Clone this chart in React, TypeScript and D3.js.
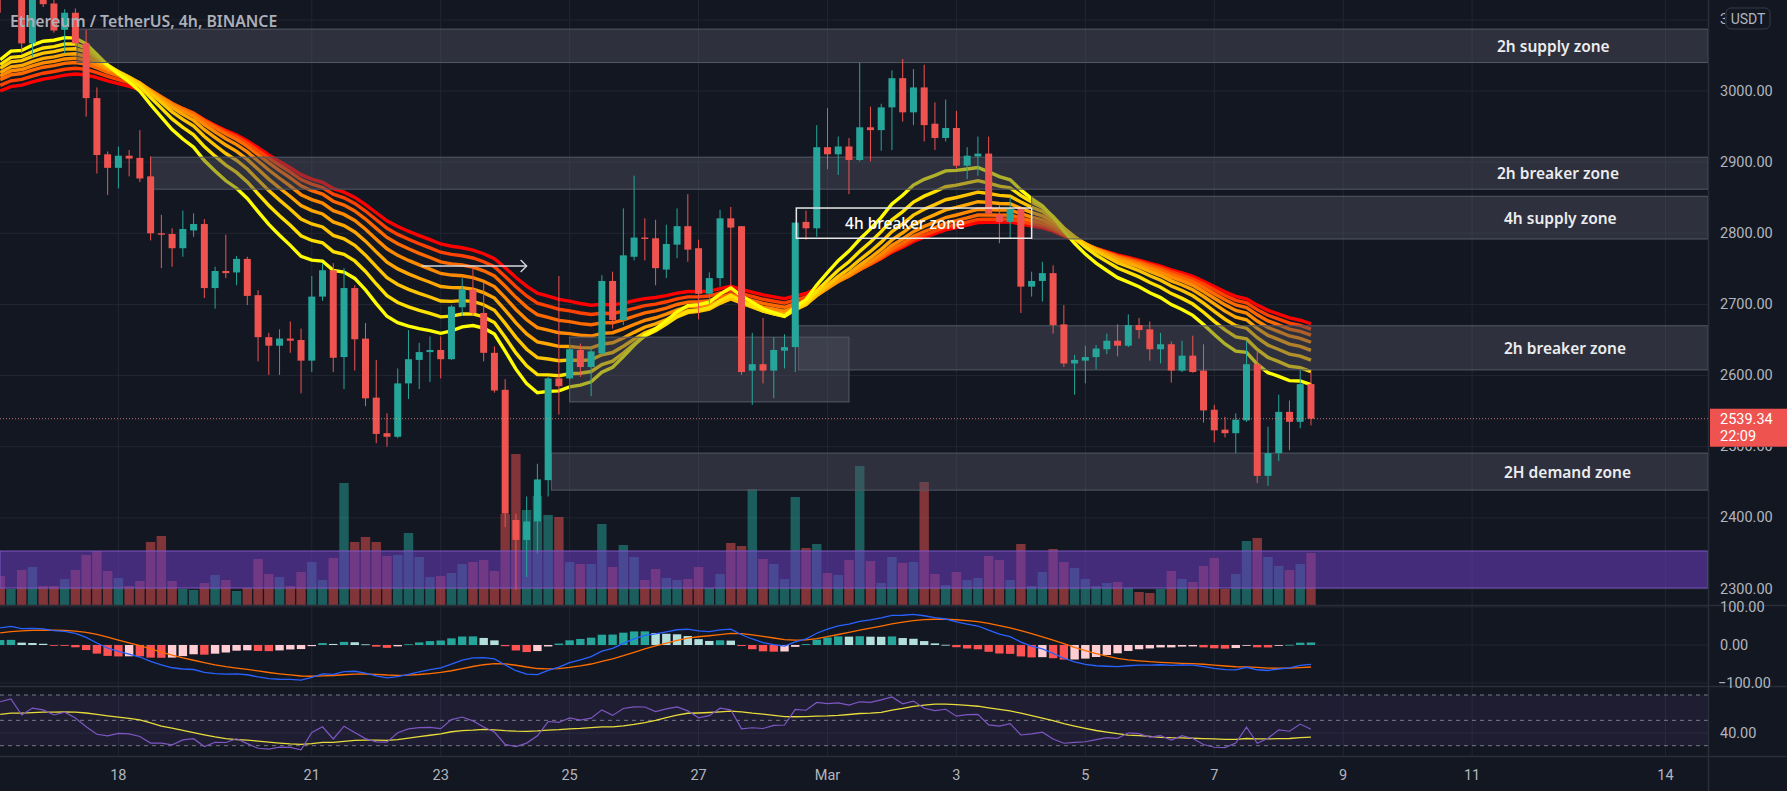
import React, { useMemo } from "react";
import * as d3 from "d3";

// ETH/USDT 4h candles, Feb 16 04:00 -> Mar 8 12:00 (open, high, low, close)
const ohlc: [number, number, number, number][] = [
  [3160, 3168, 3110, 3140], [3140, 3180, 3132, 3170], [3168, 3175, 3053, 3067], [3067, 3145, 3048, 3135],
  [3133, 3140, 3118, 3122], [3123, 3128, 3082, 3085], [3086, 3115, 3053, 3110], [3110, 3116, 3062, 3067],
  [3067, 3086, 2964, 2990], [2990, 3005, 2884, 2910], [2911, 2915, 2854, 2892], [2892, 2922, 2863, 2909],
  [2909, 2917, 2880, 2905], [2906, 2945, 2872, 2877], [2880, 2908, 2790, 2800], [2800, 2826, 2751, 2798],
  [2799, 2807, 2753, 2779], [2779, 2832, 2767, 2806], [2804, 2828, 2795, 2813], [2813, 2820, 2709, 2723],
  [2723, 2753, 2694, 2747], [2747, 2798, 2737, 2744], [2745, 2768, 2727, 2764], [2764, 2767, 2699, 2712],
  [2713, 2720, 2620, 2654], [2654, 2660, 2601, 2642], [2642, 2665, 2601, 2652], [2652, 2676, 2632, 2649],
  [2650, 2666, 2575, 2621], [2621, 2740, 2605, 2711], [2711, 2758, 2705, 2748], [2748, 2758, 2605, 2625],
  [2626, 2751, 2581, 2723], [2723, 2727, 2607, 2651], [2652, 2674, 2557, 2568], [2569, 2622, 2505, 2518],
  [2519, 2547, 2500, 2514], [2514, 2610, 2512, 2589], [2589, 2664, 2567, 2623], [2622, 2646, 2581, 2633],
  [2633, 2655, 2591, 2636], [2636, 2655, 2596, 2623], [2623, 2699, 2622, 2697], [2696, 2737, 2684, 2721],
  [2721, 2755, 2685, 2688], [2688, 2730, 2620, 2632], [2632, 2641, 2576, 2579], [2580, 2595, 2387, 2406],
  [2397, 2406, 2299, 2369], [2369, 2430, 2317, 2395], [2395, 2476, 2350, 2454], [2453, 2598, 2430, 2596],
  [2596, 2740, 2545, 2585], [2596, 2641, 2594, 2637], [2636, 2645, 2598, 2612], [2612, 2641, 2571, 2634],
  [2631, 2741, 2629, 2733], [2733, 2746, 2666, 2678], [2678, 2835, 2671, 2769], [2767, 2881, 2762, 2794],
  [2794, 2821, 2762, 2792], [2793, 2819, 2727, 2751], [2749, 2812, 2737, 2785], [2784, 2835, 2765, 2810],
  [2810, 2855, 2760, 2777], [2779, 2791, 2679, 2715], [2715, 2745, 2701, 2737], [2737, 2833, 2725, 2821],
  [2821, 2837, 2725, 2808], [2810, 2810, 2601, 2605], [2607, 2660, 2559, 2616], [2616, 2681, 2589, 2607],
  [2607, 2654, 2568, 2636], [2635, 2658, 2610, 2640], [2640, 2815, 2605, 2815], [2816, 2832, 2791, 2807],
  [2807, 2952, 2795, 2921], [2921, 2976, 2890, 2911], [2911, 2936, 2882, 2922], [2922, 2934, 2855, 2903],
  [2903, 3040, 2901, 2949], [2949, 2978, 2901, 2945], [2945, 2982, 2916, 2977], [2977, 3029, 2917, 3018],
  [3018, 3045, 2957, 2970], [2970, 3031, 2952, 3005], [3005, 3037, 2929, 2952], [2954, 2984, 2917, 2934],
  [2934, 2988, 2929, 2948], [2948, 2972, 2891, 2895], [2895, 2921, 2876, 2909], [2908, 2936, 2881, 2912],
  [2912, 2936, 2826, 2828], [2826, 2840, 2786, 2816], [2816, 2851, 2792, 2834], [2834, 2837, 2688, 2725],
  [2725, 2746, 2711, 2733], [2733, 2760, 2704, 2744], [2744, 2755, 2659, 2671], [2672, 2699, 2612, 2617],
  [2617, 2629, 2573, 2622], [2621, 2642, 2589, 2626], [2626, 2643, 2609, 2638], [2637, 2659, 2630, 2649],
  [2649, 2672, 2627, 2642], [2642, 2686, 2640, 2671], [2671, 2681, 2652, 2664], [2665, 2676, 2621, 2637],
  [2637, 2660, 2617, 2644], [2644, 2648, 2590, 2607], [2607, 2649, 2605, 2628], [2628, 2656, 2604, 2605],
  [2607, 2644, 2534, 2551], [2552, 2559, 2506, 2523], [2524, 2542, 2513, 2519], [2519, 2547, 2491, 2538],
  [2537, 2648, 2535, 2616], [2616, 2634, 2449, 2459], [2459, 2528, 2445, 2491], [2491, 2573, 2480, 2549],
  [2549, 2565, 2495, 2535], [2535, 2608, 2526, 2588], [2588, 2605, 2530, 2539.34],
];

// volume per candle (K ETH, relative)
const volumes: number[] = [
  29, 16, 35, 38, 19, 19, 26, 35, 50, 54, 34, 27, 19, 24, 63, 69, 24, 16, 15, 22,
  30, 25, 14, 17, 46, 31, 28, 19, 33, 43, 25, 47, 122, 63, 68, 63, 49, 50, 72, 48,
  28, 29, 32, 41, 43, 45, 34, 91, 151, 95, 109, 90, 88, 43, 41, 41, 81, 38, 60, 48,
  25, 36, 27, 25, 26, 38, 17, 31, 62, 59, 116, 46, 41, 26, 108, 57, 61, 32, 30, 45,
  139, 44, 22, 48, 42, 43, 123, 31, 20, 33, 25, 27, 49, 45, 25, 61, 19, 33, 56, 43,
  37, 26, 19, 22, 23, 17, 13, 12, 16, 34, 26, 23, 39, 47, 16, 31, 64, 67, 48, 39,
  35, 41, 52,
];

// EMA ribbon (lengths, values at first candle, colours)
const ribbonLengths = [20, 25, 30, 35, 40, 45, 50, 55];
const ribbonSeeds = [3044, 3037, 3032, 3026, 3021, 3016, 3008, 3000];
const ribbonColors = ["#ffff00", "#ffe100", "#ffc400", "#ffa600", "#ff8a00", "#ff6a00", "#ff4200", "#ff0000"];

// MACD 12/26/9 and RSI 14 starting states read at the first candle
const macdSeeds = [3080, 3035, 32];
const rsiSeeds = [22, 12, 54]; // avg gain, avg loss, rsi-ma

// drawn zones
const zoneLabels = ["2h supply zone", "2h breaker zone", "4h supply zone", "", "2h breaker zone", "2H demand zone"];
const zoneFrom = [7.15, 14.0, 96.0, 53.0, 74.3, 51.3];
const zoneTo = [160, 160, 160, 79.0, 160, 160];
const zoneHigh = [3087, 2907, 2852, 2654, 2670, 2491];
const zoneLow = [3040, 2862, 2792, 2563, 2608, 2439];
const breakerBox = [74.1, 96.0, 2835.5, 2793];
const arrowLine = [39.2, 49, 2754];

const priceTicks = [2300, 2400, 2500, 2600, 2700, 2800, 2900, 3000, 3100];
const dateTicks = [11, 29, 41, 53, 65, 77, 89, 101, 113, 125, 137, 155];
const dateLabels = ["18", "21", "23", "25", "27", "Mar", "3", "5", "7", "9", "11", "14"];

const W = 1787;
const H = 791;
const AX = 1708;
const MAIN_B = 605;
const MACD_T = 606;
const MACD_B = 686;
const RSI_T = 687;
const RSI_B = 756;

const BG = "#131722";
const UP = "#26a69a";
const DOWN = "#ef5350";
const TXT = "#b2b5be";
const GRID = "#222631";
const AXFONT = "Roboto, 'Liberation Sans', sans-serif";

function emaFrom(values: number[], len: number, seed: number) {
  const a = 2 / (len + 1);
  const out: number[] = [];
  let prev = seed;
  values.forEach((v, i) => {
    if (i > 0) prev = prev + a * (v - prev);
    out.push(prev);
  });
  return out;
}

export default function App() {
  const closes = ohlc.map((d) => d[3]);

  const x = d3.scaleLinear().domain([0, 155]).range([0.2, 0.2 + 155 * 10.744]);
  const y = d3.scaleLinear().domain([2300, 3000]).range([589, 91]);
  const yVol = d3.scaleLinear().domain([0, 151]).range([MAIN_B, MAIN_B - 151]);
  const yMacd = d3.scaleLinear().domain([-100, 100]).range([683, 607]);
  const yRsi = d3.scaleLinear().domain([30, 70]).range([745.7, 695]);

  const ribbons = useMemo(
    () => ribbonLengths.map((len, k) => emaFrom(closes, len, ribbonSeeds[k])),
    []
  );

  const macd = useMemo(() => {
    const fast = emaFrom(closes, 12, macdSeeds[0]);
    const slow = emaFrom(closes, 26, macdSeeds[1]);
    const line = fast.map((f, i) => f - slow[i]);
    const signal = emaFrom(line, 9, macdSeeds[2]);
    const hist = line.map((m, i) => m - signal[i]);
    return { line, signal, hist };
  }, []);

  const rsi = useMemo(() => {
    let g = rsiSeeds[0];
    let l = rsiSeeds[1];
    const vals: number[] = [];
    closes.forEach((c, i) => {
      if (i > 0) {
        const ch = c - closes[i - 1];
        g = (g * 13 + Math.max(ch, 0)) / 14;
        l = (l * 13 + Math.max(-ch, 0)) / 14;
      }
      vals.push(100 - 100 / (1 + g / l));
    });
    const ma = vals.map((_, i) => {
      let s = 0;
      for (let k = i - 13; k <= i; k++) s += k < 0 ? rsiSeeds[2] : vals[k];
      return s / 14;
    });
    return { vals, ma };
  }, []);

  const ribbonLine = (vals: number[]) =>
    d3
      .line<number>()
      .x((_, i) => x(i))
      .y((v) => y(v))(vals) as string;

  const macdPath = (vals: number[]) =>
    d3
      .line<number>()
      .x((_, i) => x(i))
      .y((v) => yMacd(v))(vals) as string;

  const rsiPath = (vals: number[]) =>
    d3
      .line<number>()
      .x((_, i) => x(i))
      .y((v) => yRsi(v))(vals) as string;

  const histColor = (h: number, prev: number) => {
    if (h >= 0) return h >= prev ? "#26a69a" : "#b2dfdb";
    return h <= prev ? "#ff5252" : "#ffcdd2";
  };

  const last = closes[closes.length - 1];
  const lastColor = ohlc[ohlc.length - 1][3] >= ohlc[ohlc.length - 1][0] ? UP : DOWN;
  const boxTop = y(last) - 10;
  const boxBottom = boxTop + 38;

  return (
    <div style={{ position: "fixed", left: 0, top: 0, width: W, height: H, background: BG }}>
      <svg width={W} height={H} style={{ display: "block" }}>
        <defs>
          <clipPath id="mainClip">
            <rect x={0} y={0} width={AX} height={MAIN_B} />
          </clipPath>
          <clipPath id="macdClip">
            <rect x={0} y={MACD_T} width={AX} height={MACD_B - MACD_T} />
          </clipPath>
          <clipPath id="rsiClip">
            <rect x={0} y={RSI_T} width={AX} height={RSI_B - RSI_T} />
          </clipPath>
          <clipPath id="under3100">
            <rect x={AX} y={0} width={17} height={40} />
          </clipPath>
          <clipPath id="under2500">
            <rect x={AX} y={boxBottom} width={W - AX} height={20} />
          </clipPath>
        </defs>
        <rect x={0} y={0} width={W} height={H} fill={BG} />

        {/* grid */}
        <g>
          {dateTicks.map((t) => (
            <line key={"vg" + t} x1={x(t)} x2={x(t)} y1={0} y2={RSI_B} stroke={GRID} strokeWidth={1} />
          ))}
          {priceTicks.map((p) => (
            <line key={"hg" + p} x1={0} x2={AX} y1={y(p)} y2={y(p)} stroke={GRID} strokeWidth={1} />
          ))}
          {[100, 0, -100].map((v) => (
            <line key={"mg" + v} x1={0} x2={AX} y1={yMacd(v)} y2={yMacd(v)} stroke={GRID} strokeWidth={1} />
          ))}
          <line x1={0} x2={AX} y1={yRsi(40)} y2={yRsi(40)} stroke={GRID} strokeWidth={1} />
        </g>

        {/* main pane */}
        <g clipPath="url(#mainClip)">
          {volumes.map((v, i) => {
            const up = ohlc[i][3] >= ohlc[i][0];
            return (
              <rect
                key={"v" + i}
                x={x(i) - 4.7}
                y={yVol(v)}
                width={9.4}
                height={MAIN_B - yVol(v)}
                fill={up ? UP : DOWN}
                fillOpacity={0.5}
              />
            );
          })}

          {ribbons
            .map((vals, k) => ({ vals, k }))
            .reverse()
            .map(({ vals, k }) => (
              <path key={"r" + k} d={ribbonLine(vals)} fill="none" stroke={ribbonColors[k]} strokeWidth={3.4} />
            ))}

          {zoneLabels.map((lab, k) => (
            <rect
              key={"z" + k}
              x={x(zoneFrom[k])}
              y={y(zoneHigh[k])}
              width={Math.min(x(zoneTo[k]), AX) - x(zoneFrom[k])}
              height={y(zoneLow[k]) - y(zoneHigh[k])}
              fill="rgba(80,83,96,0.45)"
              stroke="#555965"
              strokeWidth={1}
            />
          ))}

          <rect x={0} y={551} width={AX} height={37} fill="rgba(103,58,183,0.6)" stroke="#7e57c2" strokeWidth={1} />

          {ohlc.map((d, i) => {
            const [o, h, l, c] = d;
            const col = c >= o ? UP : DOWN;
            const top = y(Math.max(o, c));
            const bh = Math.max(1, y(Math.min(o, c)) - top);
            return (
              <g key={"c" + i}>
                <line x1={x(i)} x2={x(i)} y1={y(h)} y2={y(l)} stroke={col} strokeWidth={1} />
                <rect x={x(i) - 3.5} y={top} width={7} height={bh} fill={col} />
              </g>
            );
          })}

          <rect
            x={x(breakerBox[0])}
            y={y(breakerBox[2])}
            width={x(breakerBox[1]) - x(breakerBox[0])}
            height={y(breakerBox[3]) - y(breakerBox[2])}
            fill="none"
            stroke="#e8e8e8"
            strokeWidth={1.5}
          />
          <text
            x={(x(breakerBox[0]) + x(breakerBox[1])) / 2 - 9}
            y={(y(breakerBox[2]) + y(breakerBox[3])) / 2}
            fill="#ffffff"
            fontSize={15.5}
            fontFamily="'Noto Sans', sans-serif"
            fontWeight={500}
            textAnchor="middle"
            dominantBaseline="central"
          >
            4h breaker zone
          </text>

          {zoneLabels.map((lab, k) =>
            lab ? (
              <text
                key={"zl" + k}
                x={1497 + (k >= 2 ? 7 : 0)}
                y={(y(zoneHigh[k]) + y(zoneLow[k])) / 2}
                fill="#ececef"
                fontSize={15.5}
                fontFamily="'Noto Sans', sans-serif"
                fontWeight={600}
                dominantBaseline="central"
              >
                {lab}
              </text>
            ) : null
          )}

          <line x1={x(arrowLine[0])} x2={x(arrowLine[1])} y1={y(arrowLine[2])} y2={y(arrowLine[2])} stroke="#d9dbe0" strokeWidth={1.3} />
          <path
            d={`M${x(arrowLine[1]) - 6},${y(arrowLine[2]) - 6} L${x(arrowLine[1])},${y(arrowLine[2])} L${x(arrowLine[1]) - 6},${y(arrowLine[2]) + 6}`}
            fill="none"
            stroke="#d9dbe0"
            strokeWidth={1.3}
          />

          <line x1={0} x2={AX} y1={y(last)} y2={y(last)} stroke="#e58a88" strokeOpacity={0.85} strokeWidth={1} strokeDasharray="1 2" />

          <text x={10} y={21} fill="#acafb8" fontSize={15.8} fontWeight={600} fontFamily="'Noto Sans', sans-serif" dominantBaseline="central">
            Ethereum / TetherUS, 4h, BINANCE
          </text>
        </g>

        {/* MACD pane */}
        <g clipPath="url(#macdClip)">
          {macd.hist.map((h, i) => (
            <rect
              key={"h" + i}
              x={x(i) - 4.2}
              y={Math.min(yMacd(h), yMacd(0))}
              width={8.4}
              height={Math.max(0.8, Math.abs(yMacd(h) - yMacd(0)))}
              fill={histColor(h, i > 0 ? macd.hist[i - 1] : h)}
            />
          ))}
          <path d={macdPath(macd.signal)} fill="none" stroke="#ff6d00" strokeWidth={1.3} />
          <path d={macdPath(macd.line)} fill="none" stroke="#2962ff" strokeWidth={1.3} />
        </g>

        {/* RSI pane */}
        <g clipPath="url(#rsiClip)">
          <rect x={0} y={yRsi(70)} width={AX} height={yRsi(30) - yRsi(70)} fill="rgba(126,87,194,0.1)" />
          {[70, 50, 30].map((v) => (
            <line key={"rl" + v} x1={0} x2={AX} y1={yRsi(v)} y2={yRsi(v)} stroke="#787b86" strokeWidth={1} strokeDasharray="4 4" />
          ))}
          <path d={rsiPath(rsi.ma)} fill="none" stroke="#e8dc3c" strokeWidth={1.3} />
          <path d={rsiPath(rsi.vals)} fill="none" stroke="#7e57c2" strokeWidth={1.2} />
        </g>

        {/* separators */}
        <line x1={0} x2={W} y1={MAIN_B + 0.5} y2={MAIN_B + 0.5} stroke="#2a2e39" strokeWidth={1.5} />
        <line x1={0} x2={W} y1={MACD_B + 0.5} y2={MACD_B + 0.5} stroke="#2a2e39" strokeWidth={1.5} />
        <line x1={0} x2={W} y1={RSI_B + 0.5} y2={RSI_B + 0.5} stroke="#2a2e39" strokeWidth={1.5} />
        <line x1={AX + 0.5} x2={AX + 0.5} y1={0} y2={H} stroke="#2a2e39" strokeWidth={1.5} />

        {/* price axis */}
        <g fontFamily={AXFONT} fontSize={14.5} fill={TXT}>
          {priceTicks
            .filter((p) => p !== 3100 && p !== 2500)
            .map((p) => (
              <text key={"pt" + p} x={1720} y={y(p)} dominantBaseline="central">
                {d3.format(".2f")(p)}
              </text>
            ))}
          <text x={1720} y={y(3100)} dominantBaseline="central" clipPath="url(#under3100)">
            {d3.format(".2f")(3100)}
          </text>
          <text x={1720} y={y(2500)} dominantBaseline="central" clipPath="url(#under2500)">
            {d3.format(".2f")(2500)}
          </text>
          <text x={1720} y={yMacd(100)} dominantBaseline="central">100.00</text>
          <text x={1720} y={yMacd(0)} dominantBaseline="central">0.00</text>
          <text x={1718} y={yMacd(-100)} dominantBaseline="central">−100.00</text>
          <text x={1720} y={yRsi(40)} dominantBaseline="central">40.00</text>
        </g>

        <rect x={1726} y={8} width={44} height={21} rx={5} fill={BG} stroke="#363a45" strokeWidth={1} />
        <text x={1748} y={18.5} fill={TXT} fontFamily={AXFONT} fontSize={14} textAnchor="middle" dominantBaseline="central">
          USDT
        </text>

        <rect x={AX + 2} y={boxTop} width={W - AX - 2} height={boxBottom - boxTop} fill={lastColor} />
        <text x={1720} y={y(last) + 1} fill="#ffffff" fontFamily={AXFONT} fontSize={14.5} dominantBaseline="central">
          {d3.format(".2f")(last)}
        </text>
        <text x={1720} y={y(last) + 18} fill="#ffffff" fontFamily={AXFONT} fontSize={14.5} dominantBaseline="central">
          22:09
        </text>

        {/* time axis */}
        <g fontFamily={AXFONT} fontSize={14.5} fill={TXT}>
          {dateTicks.map((t, k) => (
            <text key={"dt" + t} x={x(t)} y={775} textAnchor="middle" dominantBaseline="central">
              {dateLabels[k]}
            </text>
          ))}
        </g>
      </svg>
    </div>
  );
}
